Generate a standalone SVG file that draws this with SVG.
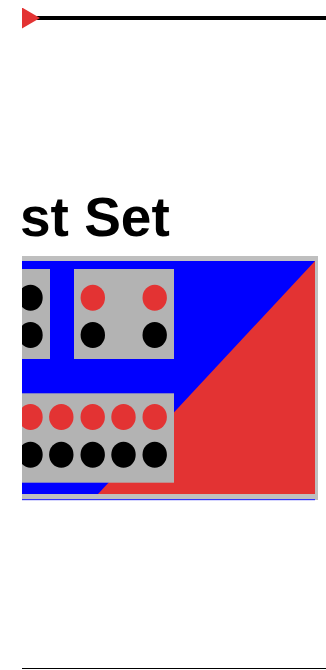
<svg xmlns="http://www.w3.org/2000/svg" width="326" height="670" viewBox="0 0 326 670">
<style>
.box{fill:#b3b3b3}
.r{fill:#e33333}
.k{fill:#000}
.title{font-family:"Liberation Sans",Arial,sans-serif;font-weight:bold;font-size:55px;fill:#000}
</style>
<defs>
<clipPath id="vis"><rect x="22" y="0" width="304" height="670"/></clipPath>
<marker id="tri" markerUnits="userSpaceOnUse" markerWidth="18" markerHeight="21" refX="0" refY="10.5" orient="auto" viewBox="0 0 18 21">
<path d="M0,0 L18,10.5 L0,21 Z" fill="#e33333"/>
</marker>
</defs>
<g clip-path="url(#vis)">
<g id="connectors">
<line x1="22" y1="18" x2="326" y2="18" stroke="#000" stroke-width="4" marker-start="url(#tri)"/>
<line x1="22" y1="668.5" x2="326" y2="668.5" stroke="#000" stroke-width="1"/>
</g>
<text id="title" class="title" x="20" y="235.5">st Set</text>
<g id="panel">
<rect x="22" y="256" width="296" height="244" fill="#bfbfbf"/>
<rect x="22" y="261" width="293" height="233" fill="#0000ff"/>
<polygon points="315,261 315,494 98,494" class="r"/>
<rect x="22" y="499" width="293" height="1.2" fill="#3333ff"/>
</g>
<g id="box1">
<rect class="box" x="-10" y="269" width="60" height="90"/>
<ellipse class="k" cx="30.5" cy="297.7" rx="12.2" ry="13"/>
<ellipse class="k" cx="30.5" cy="335" rx="12.2" ry="13"/>
</g>
<g id="box2">
<rect class="box" x="74" y="269" width="100" height="90"/>
<ellipse class="r" cx="92.8" cy="297.7" rx="12.2" ry="13"/>
<ellipse class="r" cx="154.7" cy="297.7" rx="12.2" ry="13"/>
<ellipse class="k" cx="92.8" cy="335" rx="12.2" ry="13"/>
<ellipse class="k" cx="154.7" cy="335" rx="12.2" ry="13"/>
</g>
<g id="box3">
<rect class="box" x="-10" y="393.3" width="184" height="89.4"/>
<ellipse class="r" cx="30.5" cy="417" rx="12.2" ry="13"/>
<ellipse class="r" cx="61.3" cy="417" rx="12.2" ry="13"/>
<ellipse class="r" cx="92.7" cy="417" rx="12.2" ry="13"/>
<ellipse class="r" cx="123.5" cy="417" rx="12.2" ry="13"/>
<ellipse class="r" cx="154.7" cy="417" rx="12.2" ry="13"/>
<ellipse class="k" cx="30.5" cy="454.7" rx="12.2" ry="13"/>
<ellipse class="k" cx="61.3" cy="454.7" rx="12.2" ry="13"/>
<ellipse class="k" cx="92.7" cy="454.7" rx="12.2" ry="13"/>
<ellipse class="k" cx="123.5" cy="454.7" rx="12.2" ry="13"/>
<ellipse class="k" cx="154.7" cy="454.7" rx="12.2" ry="13"/>
</g>
</g>
</svg>
